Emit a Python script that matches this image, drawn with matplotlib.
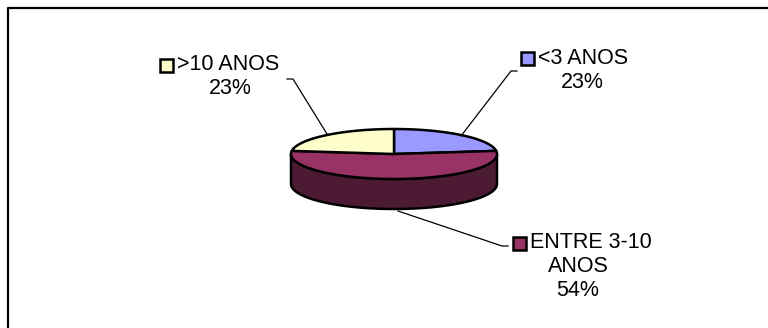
import numpy as np
import matplotlib.pyplot as plt
from matplotlib.patches import Polygon, Rectangle

plt.rcParams['font.family'] = ['Liberation Sans', 'DejaVu Sans']

# data
categories = ['<3 ANOS', 'ENTRE 3-10\nANOS', '>10 ANOS']
values = [23, 54, 23]
top_colors = ['#9999FF', '#993366', '#FFFFCC']
side_colors = ['#4D4D80', '#4D1A33', '#80806A']

# layout (pixels, y down)
cx, cy = 394, 154
rx, ry = 103, 25
depth = 30

fig = plt.figure(figsize=(7.68, 3.28), dpi=100)
ax = fig.add_axes([0, 0, 1, 1])
ax.set_xlim(0, 768)
ax.set_ylim(328, 0)
ax.axis('off')

# chart frame (only top and left visible)
ax.plot([8, 8, 770], [330, 8, 8], color='black', lw=1.6, solid_capstyle='butt')

fracs = np.array(values) / np.sum(values)
angles = 90 - 360 * np.concatenate([[0], np.cumsum(fracs)])


def arc(t1, t2, dy=0, n=100):
    t = np.radians(np.linspace(t1, t2, n))
    return np.column_stack([cx + rx * np.cos(t), cy + dy - ry * np.sin(t)])


# side walls (front half only)
for i in range(len(values)):
    hi, lo = angles[i], angles[i + 1]
    for a, b in [(-180, 0), (180, 360), (-540, -360)]:
        s, e = max(lo, a), min(hi, b)
        if e > s:
            top = arc(s, e)
            bot = arc(e, s, dy=depth)
            ax.add_patch(Polygon(np.vstack([top, bot]), closed=True,
                                 facecolor=side_colors[i], edgecolor='black', lw=1.8))

# top faces
for i in range(len(values)):
    pts = np.vstack([[cx, cy], arc(angles[i], angles[i + 1])])
    ax.add_patch(Polygon(pts, closed=True, facecolor=top_colors[i],
                         edgecolor='black', lw=1.8, joinstyle='round'))

# leader lines
ax.plot([517, 511, 461], [71, 71, 136], color='black', lw=0.9)
ax.plot([287, 293, 327], [79, 79, 134], color='black', lw=0.9)
ax.plot([398, 502, 508], [211, 246, 246], color='black', lw=0.9)

# labels
fs = 15.5
lab = [
    # key x, key y, text x, text y
    (521, 58, 582, 58),
    (513, 243, 578, 243),
    (160, 65, 230, 65),
]
for i, (kx, ky, tx, ty) in enumerate(lab):
    lines = categories[i].split('\n')
    pct = '%d%%' % values[i]
    ax.add_patch(Rectangle((kx, ky - 6.5), 13, 13, facecolor=top_colors[i],
                           edgecolor='black', lw=1.8))
    ax.text(kx + 17, ty, lines[0], fontsize=fs, ha='left', va='center')
    yy = ty
    for ln in lines[1:]:
        yy += 24
        ax.text(tx, yy, ln, fontsize=fs, ha='center', va='center')
    ax.text(tx, yy + 24, pct, fontsize=fs, ha='center', va='center')

fig.savefig('out.png', dpi=100, facecolor='white')
